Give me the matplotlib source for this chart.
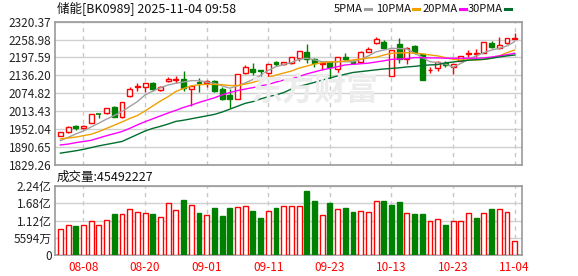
import numpy as np
import matplotlib
matplotlib.use('Agg')
import matplotlib.pyplot as plt
from matplotlib.lines import Line2D

plt.rcParams['font.family'] = ['Noto Sans CJK SC', 'DejaVu Sans']

# trading days shown (08-05 .. 11-04)
dates = ['08-05', '08-06', '08-07', '08-08', '08-11', '08-12', '08-13', '08-14', '08-15',
         '08-18', '08-19', '08-20', '08-21', '08-22', '08-25', '08-26', '08-27', '08-28', '08-29',
         '09-01', '09-02', '09-03', '09-04', '09-05', '09-08', '09-09', '09-10', '09-11',
         '09-12', '09-15', '09-16', '09-17', '09-18', '09-19', '09-22', '09-23',
         '09-24', '09-25', '09-26', '09-29', '09-30', '10-09', '10-10', '10-13',
         '10-14', '10-15', '10-16', '10-17', '10-20', '10-21', '10-22', '10-23',
         '10-24', '10-27', '10-28', '10-29', '10-30', '10-31', '11-03', '11-04']

opens = [1929, 1943, 1963, 1954, 1973, 2003, 2006, 2026, 1992, 2066,
         2095, 2095, 2109, 2086, 2116, 2120, 2125, 2088, 2113, 2109,
         2118, 2088, 2069, 2055, 2143, 2158, 2154, 2143, 2182, 2175,
         2177, 2195, 2215, 2191, 2175, 2183, 2157, 2200, 2185, 2183,
         2218, 2246, 2252, 2135, 2243, 2193, 2238, 2208, 2153, 2160,
         2180, 2166, 2185, 2211, 2211, 2214, 2248, 2229, 2248, 2262]
highs = [1943, 1961, 1964, 1965, 2003, 2004, 2024, 2031, 2045, 2095,
         2111, 2110, 2113, 2098, 2129, 2135, 2150, 2101, 2126, 2120,
         2120, 2097, 2088, 2141, 2170, 2177, 2155, 2175, 2185, 2182,
         2200, 2221, 2244, 2194, 2179, 2185, 2199, 2212, 2188, 2221,
         2235, 2267, 2258, 2224, 2263, 2235, 2240, 2210, 2166, 2186,
         2185, 2176, 2203, 2223, 2226, 2251, 2255, 2267, 2264, 2283]
lows = [1927, 1937, 1948, 1952, 1971, 1989, 2004, 1992, 1991, 2063,
        2083, 2080, 2083, 2081, 2112, 2111, 2081, 2031, 2080, 2095,
        2080, 2052, 2025, 2054, 2141, 2139, 2134, 2130, 2168, 2173,
        2175, 2185, 2180, 2166, 2154, 2120, 2145, 2185, 2175, 2178,
        2215, 2244, 2228, 2134, 2180, 2174, 2208, 2120, 2143, 2152,
        2166, 2140, 2184, 2200, 2200, 2213, 2229, 2226, 2244, 2261]
closes = [1941, 1960, 1954, 1962, 2002, 2002, 2023, 1994, 2044, 2088,
          2099, 2109, 2088, 2097, 2125, 2124, 2092, 2099, 2111, 2117,
          2084, 2055, 2055, 2141, 2166, 2146, 2151, 2174, 2174, 2181,
          2200, 2221, 2191, 2178, 2178, 2166, 2198, 2192, 2178, 2215,
          2226, 2260, 2231, 2223, 2193, 2231, 2215, 2120, 2156, 2183,
          2172, 2175, 2202, 2214, 2214, 2250, 2232, 2240, 2263, 2264]

ma5 = [1912, 1923, 1935, 1945, 1959, 1972, 1986, 1998, 2012, 2029,
       2046, 2069, 2082, 2094, 2103, 2109, 2113, 2118, 2118, 2113,
       2109, 2100, 2092, 2100, 2110, 2122, 2136, 2153, 2166, 2173,
       2180, 2191, 2195, 2189, 2183, 2183, 2183, 2183, 2183, 2191,
       2203, 2217, 2223, 2229, 2228, 2227, 2212, 2198, 2183, 2180,
       2175, 2164, 2177, 2191, 2203, 2214, 2223, 2229, 2237, 2252]
ma10 = [1918, 1921, 1924, 1929, 1934, 1943, 1954, 1965, 1976, 1988,
        1998, 2014, 2031, 2048, 2063, 2081, 2091, 2100, 2104, 2105,
        2105, 2104, 2101, 2101, 2106, 2112, 2120, 2129, 2137, 2144,
        2151, 2161, 2168, 2175, 2180, 2182, 2183, 2185, 2189, 2192,
        2196, 2198, 2206, 2212, 2213, 2214, 2212, 2210, 2206, 2203,
        2197, 2191, 2189, 2189, 2189, 2191, 2195, 2203, 2214, 2223]
ma20 = [1897, 1900, 1905, 1909, 1913, 1921, 1929, 1936, 1943, 1954,
        1966, 1977, 1987, 1997, 2007, 2016, 2026, 2034, 2043, 2051,
        2059, 2069, 2077, 2084, 2089, 2094, 2100, 2105, 2113, 2120,
        2124, 2132, 2141, 2148, 2155, 2160, 2166, 2172, 2174, 2176,
        2178, 2182, 2186, 2191, 2192, 2194, 2197, 2197, 2196, 2196,
        2195, 2195, 2195, 2195, 2195, 2196, 2199, 2203, 2207, 2212]
ma30 = [1869, 1873, 1877, 1882, 1888, 1894, 1899, 1904, 1909, 1921,
        1933, 1945, 1954, 1961, 1969, 1978, 1982, 1987, 1992, 1997,
        2002, 2010, 2020, 2030, 2040, 2046, 2055, 2063, 2069, 2077,
        2089, 2098, 2105, 2112, 2120, 2127, 2134, 2140, 2146, 2149,
        2152, 2155, 2158, 2160, 2162, 2165, 2167, 2170, 2172, 2173,
        2179, 2182, 2185, 2188, 2190, 2191, 2195, 2199, 2203, 2206]

# volume in 亿 shares, and whether the volume bar is drawn red (1) or green (0)
volume = [0.849, 0.978, 0.946, 0.978, 1.107, 0.978, 1.140, 1.334, 1.334, 1.495,
          1.398, 1.366, 1.334, 1.227, 1.689, 1.463, 1.786, 1.614, 1.376, 1.292,
          1.527, 1.269, 1.527, 1.550, 1.582, 1.430, 1.204, 1.430, 1.527, 1.592,
          1.592, 1.592, 2.076, 1.753, 1.292, 1.689, 1.495, 1.527, 1.398, 1.430,
          1.398, 1.753, 1.753, 1.624, 1.721, 1.356, 1.324, 1.324, 1.107, 1.162,
          0.978, 1.107, 1.107, 1.356, 1.204, 1.356, 1.495, 1.495, 1.398, 0.455]
vol_up = [1, 1, 0, 1, 1, 1, 1, 0, 1, 1, 1, 1, 0, 1, 1, 1, 0, 1, 0, 1,
          0, 0, 0, 1, 1, 0, 0, 1, 0, 1, 1, 1, 0, 0, 1, 0, 1, 0, 0, 1,
          1, 1, 0, 0, 0, 1, 0, 0, 1, 1, 0, 1, 1, 1, 0, 1, 0, 1, 1, 1]

price_ticks = [1829.26, 1890.65, 1952.04, 2013.43, 2074.82, 2136.20, 2197.59, 2258.98, 2320.37]
vol_ticks = [0, 5594e4, 11188e4, 16782e4, 22376e4]
vol_tick_labels = ['0', '5594万', '1.12亿', '1.68亿', '2.24亿']
date_ticks = ['08-08', '08-20', '09-01', '09-11', '09-23', '10-13', '10-23', '11-04']

RED = '#ff0000'
GREEN = '#008000'
W, H = 578, 276

fig = plt.figure(figsize=(W / 100, H / 100), dpi=100)
ax = fig.add_axes([55 / W, 1 - 164.7 / H, 467 / W, 143 / H])
axv = fig.add_axes([55 / W, 1 - 255.3 / H, 467 / W, 69.3 / H])

x = np.arange(len(dates))
tick_pos = [dates.index(d) for d in date_ticks]

# watermark
fig.text(314 / W, 1 - 92 / H, '东方财富', fontsize=23, fontweight='bold',
         color='#ececec', ha='center', va='center', zorder=0)

# candles
for i in x:
    o, h, l, c = opens[i], highs[i], lows[i], closes[i]
    up = c >= o
    col = RED if up else GREEN
    ax.vlines(i, l, h, color=col, lw=1, zorder=3)
    if abs(c - o) < 2:
        ax.hlines(c, i - 0.33, i + 0.33, color=col, lw=1.2, zorder=4)
    else:
        ax.bar(i, abs(c - o), 0.64, bottom=min(o, c), facecolor='white' if up else col,
               edgecolor=col, lw=1, zorder=4)

ax.plot(x, ma5, color='#a0a0a0', lw=1, zorder=5)
ax.plot(x, ma10, color='#f0a000', lw=1, zorder=5)
ax.plot(x, ma20, color='#ff00ff', lw=1, zorder=5)
ax.plot(x, ma30, color='#006e2e', lw=1, zorder=5)

# volume bars
vol = np.array(volume) * 1e8
for i in x:
    if vol_up[i]:
        axv.bar(i, vol[i], 0.64, facecolor='white', edgecolor=RED, lw=1, zorder=3)
    else:
        axv.bar(i, vol[i], 0.64, facecolor=GREEN, edgecolor=GREEN, lw=1, zorder=3)

for a in (ax, axv):
    a.set_xlim(-0.7, 59.95)
    a.set_xticks(tick_pos)
    a.xaxis.grid(True, color='#c8c8c8', lw=1, ls=(0, (3, 3)))
    a.yaxis.grid(True, color='#d0d0d0', lw=1)
    a.set_axisbelow(True)
    a.tick_params(length=0, labelsize=8.5, labelcolor='#222222', pad=2.5)
    for s in a.spines.values():
        s.set_color('#999999')
        s.set_linewidth(1.2)

ax.set_ylim(price_ticks[0], price_ticks[-1])
ax.set_yticks(price_ticks)
ax.set_yticklabels(['%.2f' % p for p in price_ticks])
ax.set_xticklabels([])

axv.set_ylim(0, vol_ticks[-1])
axv.set_yticks(vol_ticks)
axv.set_yticklabels(vol_tick_labels)
axv.set_xticklabels(date_ticks)
axv.tick_params(axis='x', labelcolor=RED, pad=4)

# header texts
fig.text(57 / W, 1 - 8.7 / H, '储能[BK0989] 2025-11-04 09:58', fontsize=9, color='#111111', va='center')
fig.text(57 / W, 1 - 177.5 / H, '成交量:45492227', fontsize=9, color='#111111', va='center')

# legend: name ends just before a short coloured dash
legend = [('5PMA', '#a0a0a0', 365), ('10PMA', '#f0a000', 413),
          ('20PMA', '#ff00ff', 460), ('30PMA', '#006e2e', 505)]
for name, col, lx in legend:
    fig.text((lx - 2) / W, 1 - 8.7 / H, name, fontsize=8, color='#111111', va='center', ha='right')
    fig.add_artist(Line2D([lx / W, (lx + 6) / W], [1 - 9 / H, 1 - 9 / H], color=col, lw=2.2,
                          transform=fig.transFigure))

fig.savefig('out.png', dpi=100)
